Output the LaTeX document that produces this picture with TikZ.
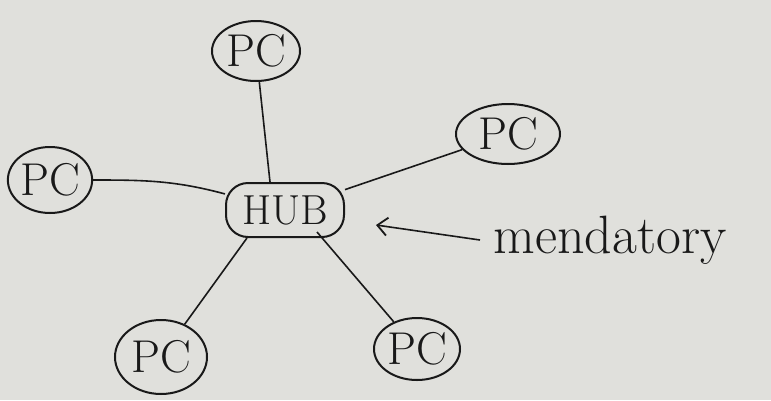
\documentclass[tikz,border=0pt]{standalone}
\usetikzlibrary{shapes.geometric,arrows.meta}
\definecolor{paper}{RGB}{224,224,220}
\definecolor{ink}{RGB}{25,25,25}
\tikzset{
  pcnode/.style={ellipse,draw=ink,line width=2pt,inner sep=0pt,font=\fontsize{46}{46}\selectfont,text=ink},
  hubnode/.style={rectangle,rounded corners=22pt,draw=ink,line width=2pt,inner sep=0pt,minimum width=118pt,minimum height=54pt,font=\fontsize{42}{42}\selectfont,text=ink},
  link/.style={draw=ink,line width=1.6pt},
  note/.style={font=\fontsize{54}{54}\selectfont,text=ink}
}
\begin{document}
\begin{tikzpicture}[x=1pt,y=-1pt]
\fill[paper] (0,0) rectangle (771,400);
\useasboundingbox (0,0) rectangle (771,400);
\node[pcnode,minimum width=88pt,minimum height=60pt] (top) at (256,51) {PC};
\node[pcnode,minimum width=104pt,minimum height=60pt] (right) at (508,134) {PC};
\node[pcnode,minimum width=84pt,minimum height=66pt] (left) at (50,180) {PC};
\node[hubnode] (hub) at (285,210) {HUB};
\node[pcnode,minimum width=92pt,minimum height=74pt] (bl) at (161,357) {PC};
\node[pcnode,minimum width=86pt,minimum height=62pt] (br) at (417,349) {PC};
\draw[link] (top) -- (hub.north west -| 270,0);
\draw[link] (left) to[out=0,in=165] (hub);
\draw[link] (right) -- (hub);
\draw[link] (hub.south west) ++(22,0) -- (bl);
\draw[link] (hub.south east) ++(-28,-6) -- (br);
\node[note,anchor=west] (txt) at (490,240) {mendatory};
\coordinate (tail) at (480,240);
\coordinate (head) at (376,225);
\draw[link,-{Straight Barb[length=10pt,width=18pt,line width=1.8pt]}] (tail) -- (head);
\end{tikzpicture}
\end{document}
